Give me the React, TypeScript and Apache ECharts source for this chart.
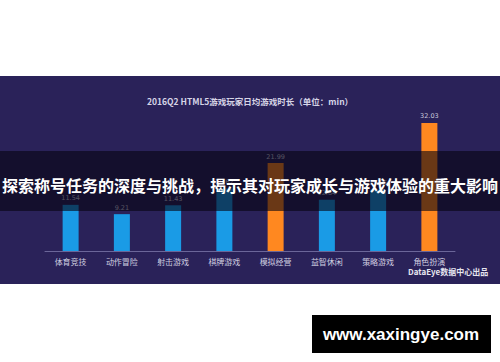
import React, { useEffect, useRef } from "react";
import * as echarts from "echarts";

const categories = ["体育竞技", "动作冒险", "射击游戏", "棋牌游戏", "模拟经营", "益智休闲", "策略游戏", "角色扮演"];
const values = [11.54, 9.21, 11.43, 15.62, 21.99, 12.84, 15.35, 32.03];
const barColors = ["#1a9be6", "#1a9be6", "#1a9be6", "#1a9be6", "#ff8820", "#1a9be6", "#1a9be6", "#ff8820"];
const titleText = "2016Q2 HTML5游戏玩家日均游戏时长（单位：min）";
const bannerText = "探索称号任务的深度与挑战，揭示其对玩家成长与游戏体验的重大影响";
const sourceText = "DataEye数据中心出品";
const siteText = "www.xaxingye.com";

export default function App() {
  const ref = useRef<HTMLDivElement>(null);
  useEffect(() => {
    const chart = echarts.init(ref.current!, null, { renderer: "svg" });
    chart.setOption({
      animation: false,
      backgroundColor: "#ffffff",
      title: {
        text: titleText,
        left: "center",
        top: 92,
        textStyle: { color: "#d6d4e6", fontSize: 8.5, fontWeight: "bold", fontFamily: "Noto Sans CJK SC" },
      },
      grid: { left: 45, right: 45, top: 91, bottom: 111 },
      xAxis: {
        type: "category",
        data: categories,
        axisLine: { lineStyle: { color: "#6b6699", width: 1 } },
        axisTick: { show: false },
        axisLabel: { color: "#d0cfe0", fontSize: 8, margin: 6, fontFamily: "Noto Sans CJK SC" },
      },
      yAxis: { type: "value", min: 0, max: 40, show: false, splitLine: { show: false } },
      graphic: [
        { type: "rect", z: -10, shape: { x: 0, y: 76, width: 500, height: 208 }, style: { fill: "#2a2259" } },
        { type: "text", z: 5, style: { text: sourceText, x: 408, y: 268, fill: "#e6e6f0", fontSize: 8, fontWeight: "bold", fontFamily: "Noto Sans CJK SC" } },
        { type: "rect", z: 50, shape: { x: 0, y: 151, width: 500, height: 60 }, style: { fill: "rgba(6,4,16,0.6)" } },
        { type: "text", z: 51, style: { text: bannerText, x: 250, y: 185, align: "center", verticalAlign: "middle", fill: "#ffffff", fontSize: 16, fontWeight: "bold", fontFamily: "Noto Sans CJK SC" } },
        { type: "rect", z: 50, shape: { x: 312, y: 315, width: 179, height: 38 }, style: { fill: "#000000" } },
        { type: "text", z: 51, style: { text: siteText, x: 401, y: 334, align: "center", verticalAlign: "middle", fill: "#ffffff", fontSize: 17, fontWeight: "bold", fontFamily: "Liberation Sans" } },
      ],
      series: [
        {
          type: "bar",
          barWidth: 16,
          data: values.map((v, i) => ({ value: v, itemStyle: { color: barColors[i] } })),
          label: { show: true, position: "top", distance: 3, color: "#c9c8da", fontSize: 6.5, fontFamily: "DejaVu Sans" },
        },
      ],
    });
    return () => chart.dispose();
  }, []);
  return <div ref={ref} style={{ position: "fixed", left: 0, top: 0, width: 500, height: 362 }} />;
}
